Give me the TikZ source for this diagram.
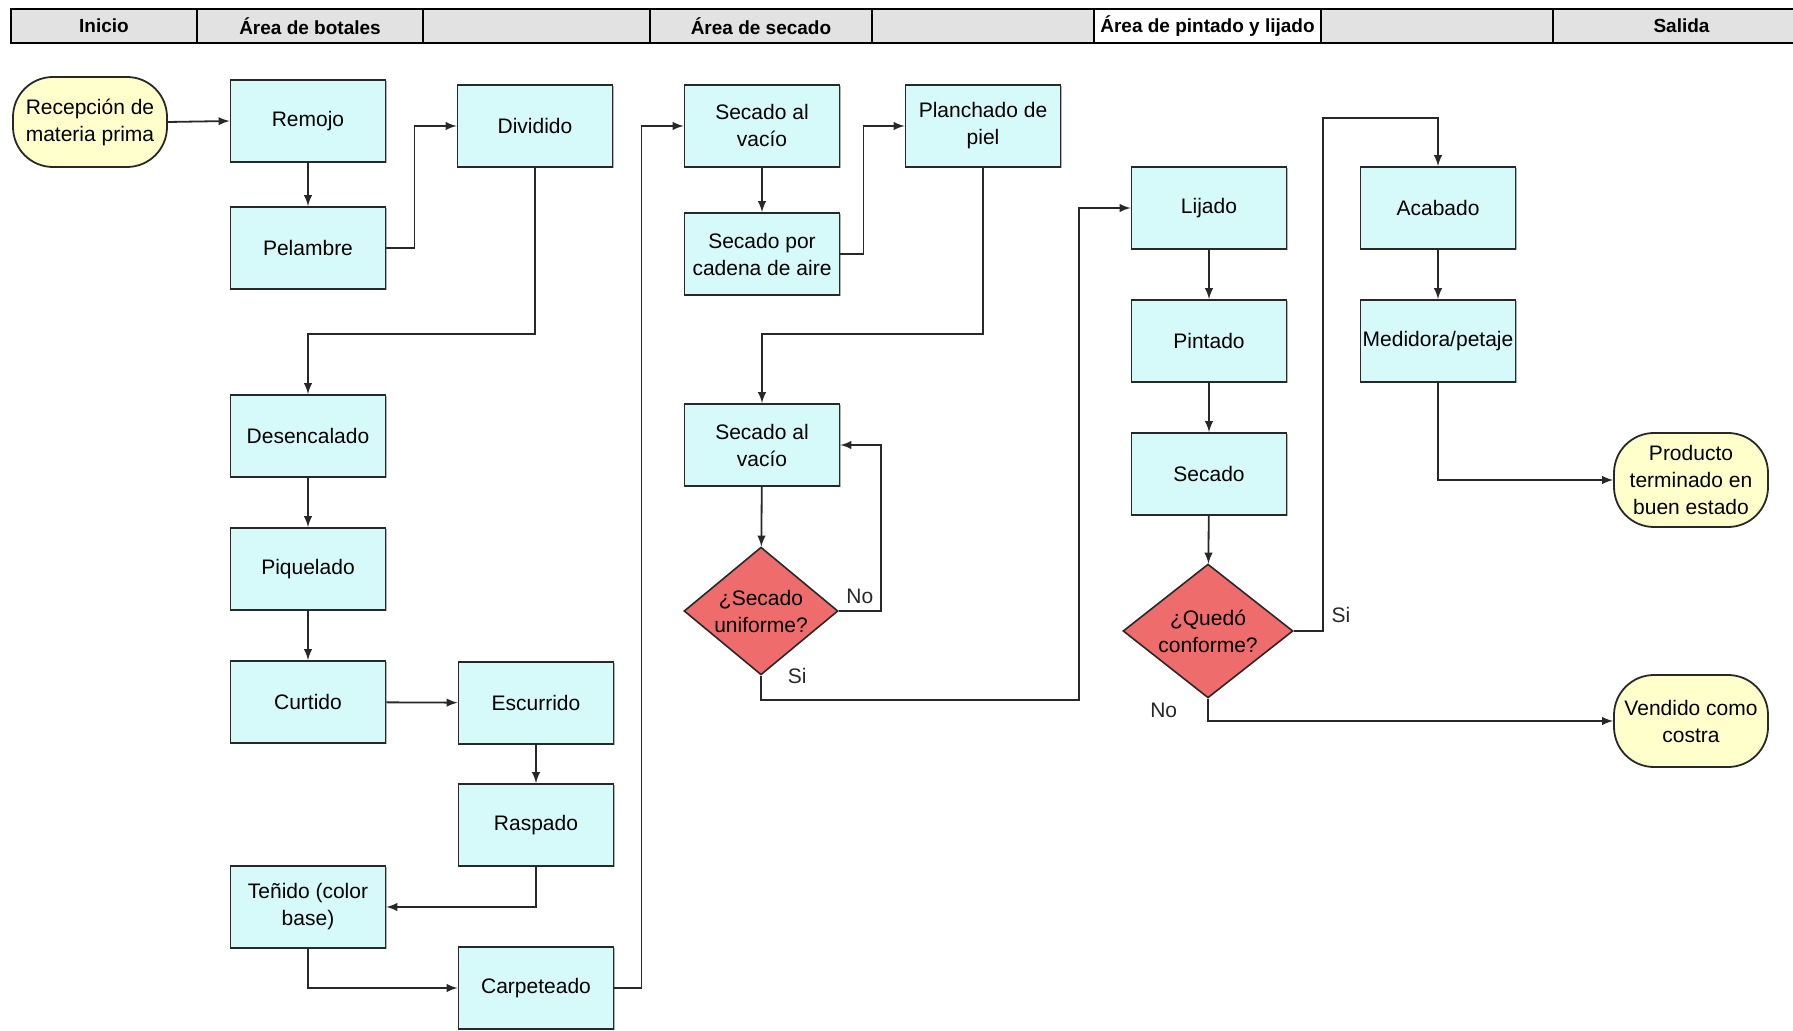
\documentclass[tikz,border=0pt]{standalone}
\usepackage{fontspec}
\setmainfont{Liberation Sans}
\usepackage{tikz}
\usetikzlibrary{arrows,shapes,positioning,shadows}
\usepackage{xcolor}
\definecolor{ftcyan}{RGB}{214,250,250}
\definecolor{ftred}{RGB}{238,108,108}
\definecolor{ftyellow}{RGB}{255,255,204}
\definecolor{ftline}{RGB}{40,40,40}
\definecolor{fthead}{RGB}{226,226,226}
\tikzstyle{proceso} = [rectangle, minimum width=77.5pt, minimum height=41pt, text centered, align=center, draw=ftline, fill=ftcyan, line width=0.9pt, inner sep=1pt, font=\fontsize{10.5}{13.5}\selectfont, drop shadow={shadow xshift=0.7pt, shadow yshift=-0.7pt, fill=gray, opacity=0.6}]
\tikzstyle{decision} = [diamond, inner sep=-1pt, text centered, align=center, draw=ftline, fill=ftred, line width=0.8pt, font=\fontsize{10.5}{13.5}\selectfont]
\tikzstyle{terminal} = [rectangle, rounded corners=20pt, minimum width=77pt, minimum height=45pt, text centered, align=center, draw=ftline, fill=ftyellow, line width=0.9pt, inner sep=1pt, font=\fontsize{10.5}{13.5}\selectfont]
\tikzstyle{arrow} = [line width=0.9pt, ->, >=latex, color=ftline]
\tikzstyle{etiqueta} = [inner sep=1pt, font=\fontsize{10.5}{13.5}\selectfont]
\tikzstyle{cabecera} = [draw=black, line width=1.1pt]

\begin{document}
\begin{tikzpicture}[x=0.5pt, y=-0.5pt, node distance=66.5pt]
\useasboundingbox (0,0) rectangle (1793,1031);

% header bar
\foreach \a/\b/\fondo/\txt [count=\i] in {11/197/fthead/Inicio, 197/423/fthead/{Área de botales}, 423/650/fthead/{}, 650/872/fthead/{Área de secado}, 872/1094/fthead/{}, 1094/1321/white/{Área de pintado y lijado}, 1321/1553/fthead/{}, 1553/1810/fthead/Salida}
{
  \draw[cabecera, fill=\fondo] (\a,9) rectangle (\b,43);
  \node (col\i) [font=\fontsize{9.5}{11}\selectfont\bfseries] at ({(\a+\b)/2},26) {\txt};
}

% area de botales
\node (recep) [terminal] at (90,122) {Recepción de\\materia prima};
\node (remojo) [proceso] at (308,121) {Remojo};
\node (pelambre) [proceso, below of=remojo, node distance=63.5pt] {Pelambre};
\node (dividido) [proceso] at (535,126) {Dividido};
\node (desenc) [proceso] at (308,436) {Desencalado};
\node (piquelado) [proceso, below of=desenc] {Piquelado};
\node (curtido) [proceso, below of=piquelado] {Curtido};
\node (escurrido) [proceso] at (536,703) {Escurrido};
\node (raspado) [proceso] at (536,825) {Raspado};
\node (tenido) [proceso] at (308,907) {Teñido (color\\base)};
\node (carpeteado) [proceso] at (536,988) {Carpeteado};

% area de secado
\node (secado1) [proceso] at (762,126) {Secado al\\vacío};
\node (cadena) [proceso, below of=secado1, node distance=64pt] {Secado por\\cadena de aire};
\node (planchado) [proceso] at (983,126) {Planchado de\\piel};
\node (secado2) [proceso] at (762,445) {Secado al\\vacío};
\node (uniforme) [decision, minimum width=77pt, minimum height=61pt] at (761,611) {¿Secado\\uniforme?};

% area de pintado y lijado
\node (lijado) [proceso] at (1209,208) {Lijado};
\node (pintado) [proceso, below of=lijado] {Pintado};
\node (secadopl) [proceso, below of=pintado] {Secado};
\node (conforme) [decision, minimum width=85pt, minimum height=60pt] at (1208,631) {¿Quedó\\conforme?};
\node (acabado) [proceso] at (1438,208) {Acabado};
\node (medidora) [proceso, below of=acabado] {Medidora/petaje};

% salida
\node (producto) [terminal, minimum height=47pt] at (1691,480) {Producto\\terminado en\\buen estado};
\node (vendido) [terminal, minimum height=46pt] at (1691,721) {Vendido como\\costra};

\coordinate (siturn) at (1079,700);
\coordinate (acturn) at (1323,118);

% flujo
\draw[arrow] (recep.east) -- (remojo.west);
\draw[arrow] (remojo) -- (pelambre);
\draw[arrow] (pelambre.east) -- ++(28,0) |- (dividido.west);
\draw[arrow] (dividido.south) -- ++(0,166) -| (desenc.north);
\draw[arrow] (desenc) -- (piquelado);
\draw[arrow] (piquelado) -- (curtido);
\draw[arrow] (curtido) -- (escurrido);
\draw[arrow] (escurrido) -- (raspado);
\draw[arrow] (raspado.south) |- (tenido.east);
\draw[arrow] (tenido.south) |- (carpeteado.west);
\draw[arrow] (carpeteado.east) -- ++(27,0) |- (secado1.west);
\draw[arrow] (secado1) -- (cadena);
\draw[arrow] (cadena.east) -- ++(23,0) |- (planchado.west);
\draw[arrow] (planchado.south) -- ++(0,166) -| (secado2.north);
\draw[arrow] (secado2) -- (uniforme);
\draw[arrow] (uniforme.east) -- node[etiqueta, above=2pt] {No} ++(42,0) |- (secado2.east);
\draw[arrow] (uniforme.south) node[etiqueta, right=12pt] {Si} |- (siturn) |- (lijado.west);
\draw[arrow] (lijado) -- (pintado);
\draw[arrow] (pintado) -- (secadopl);
\draw[arrow] (secadopl) -- (conforme);
\draw[arrow] (conforme.east) -| node[etiqueta, pos=0.5, above right=4pt] {Si} (acturn) -| (acabado.north);
\draw[arrow] (conforme.south) |- node[etiqueta, pos=0.5, above left, xshift=-14pt] {No} (vendido.west);
\draw[arrow] (acabado) -- (medidora);
\draw[arrow] (medidora.south) |- (producto.west);
\end{tikzpicture}
\end{document}
